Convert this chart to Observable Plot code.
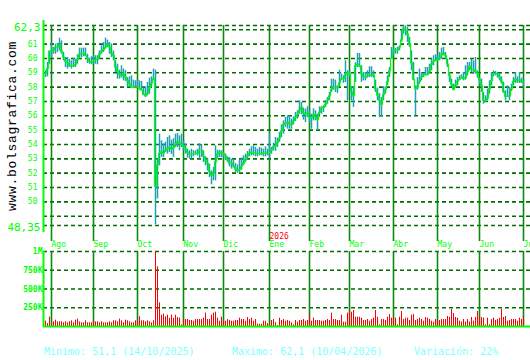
<!DOCTYPE html>
<html>
<head>
<meta charset="utf-8">
<script src="https://cdn.jsdelivr.net/npm/d3@7"></script>
<script src="https://cdn.jsdelivr.net/npm/@observablehq/plot@0.6"></script>
<style>
  html, body { margin: 0; padding: 0; background: #fff; }
  #wrap { position: relative; width: 530px; height: 360px; overflow: hidden; background: #fff; font-family: "DejaVu Sans Mono", monospace; }
  #wrap svg { position: absolute; left: 0; }
  .foot { position: absolute; top: 345px; font-size: 10px; color: #80ffff; white-space: pre; line-height: 14px; }
</style>
</head>
<body>
<div id="wrap"></div>
<script>
// ---- data (one bar per trading day) ----
const close = [59.0,59.3,60.5,60.5,60.6,60.8,60.8,60.95,60.5,60.1,59.8,59.7,59.5,59.5,59.5,59.6,59.95,60.3,60.35,60.35,
60.2,60.0,59.8,59.75,59.8,59.9,59.95,60.3,60.5,60.6,60.8,61.0,60.8,60.35,60.2,59.4,59.1,58.9,58.8,58.95,
58.7,58.45,58.2,58.0,58.0,58.0,58.0,57.9,57.8,57.5,57.4,57.6,57.95,58.3,58.6,51.1,52.6,53.4,53.5,53.4,
53.6,53.7,53.8,53.7,53.8,54.05,54.2,54.1,54.0,53.85,53.7,53.45,53.35,53.35,53.35,53.35,53.4,53.6,53.6,53.2,
52.9,52.7,52.1,51.85,52.0,52.8,53.35,53.45,53.4,53.35,53.2,52.95,52.7,52.7,52.5,52.3,52.2,52.25,52.5,52.7,
52.97,53.2,53.4,53.45,53.4,53.4,53.35,53.35,53.35,53.4,53.4,53.45,53.45,53.6,53.85,53.9,54.15,54.45,54.95,55.4,
55.5,55.55,55.45,55.4,55.65,55.9,56.1,56.4,56.6,56.2,56.1,56.2,55.85,55.85,56.1,55.9,55.75,56.25,56.55,56.6,
56.8,57.1,57.4,57.85,58.0,58.0,57.95,58.3,58.6,58.6,58.9,59.0,58.95,57.65,57.4,59.5,59.6,59.5,58.95,58.7,
58.7,58.8,58.85,58.9,58.85,57.85,57.45,57.1,56.8,57.5,57.85,58.4,59.15,60.0,60.5,60.6,60.6,60.8,61.3,62.1,
61.95,61.7,61.0,59.7,58.55,57.9,58.0,58.4,58.7,58.85,58.85,58.9,59.1,59.6,59.8,59.85,59.95,60.0,60.25,60.4,
60.2,59.6,58.8,58.2,57.85,58.15,58.4,58.55,58.7,58.6,58.65,59.1,59.45,59.25,59.25,59.1,58.95,58.5,58.1,57.1,
57.05,57.25,57.9,58.45,58.95,58.95,58.9,58.7,58.4,57.7,57.35,57.35,57.4,57.9,58.4,58.55,58.45,58.5,58.4,58.3];

const high = [59.14,59.72,60.53,61.0,60.77,61.0,61.05,61.42,61.23,60.42,60.07,60.07,59.95,59.84,60.02,59.95,60.26,60.72,60.72,60.72,
60.72,60.3,60.02,60.12,60.19,60.19,60.19,60.53,60.88,61.12,61.42,61.28,61.12,61.0,60.53,59.84,59.6,59.19,59.49,59.26,
59.14,58.67,58.72,58.79,58.49,58.44,58.44,58.44,58.4,57.95,58.02,58.33,58.63,58.72,59.26,59.19,53.0,54.72,54.26,54.05,
54.16,54.49,54.6,54.3,54.4,54.72,54.77,54.6,54.72,54.26,54.05,53.67,53.56,53.67,53.56,53.56,53.67,54.05,54.0,53.56,
53.14,53.05,52.63,52.16,52.4,53.91,53.6,53.6,53.56,53.44,53.33,53.14,53.09,52.98,52.98,52.67,52.58,52.91,53.05,53.21,
53.33,53.51,53.67,53.84,53.91,53.79,53.67,53.79,53.74,53.67,53.84,53.67,54.77,53.79,54.09,54.49,54.44,54.84,55.37,55.65,
55.88,56.0,56.0,55.77,55.93,56.23,56.35,57.05,56.93,56.53,56.47,56.63,56.35,56.12,56.49,56.35,56.12,56.63,56.63,56.7,
57.05,57.28,57.63,58.56,58.56,58.49,58.09,59.19,58.91,58.79,59.84,59.14,59.09,57.98,57.98,59.7,60.35,60.35,59.49,59.02,
59.02,59.14,59.42,59.42,59.14,58.49,57.93,57.56,57.28,58.02,58.02,58.79,59.37,60.77,60.77,60.7,60.77,60.88,61.98,62.28,
62.28,62.16,61.47,60.53,59.72,58.09,58.67,59.26,59.02,58.95,59.37,59.37,59.6,59.95,60.19,60.26,60.19,60.42,60.72,60.77,
60.42,59.95,59.02,58.56,58.21,58.49,58.67,58.79,58.86,59.02,59.49,59.72,59.72,59.95,59.84,60.07,59.14,58.67,58.56,57.63,
57.4,57.86,58.44,59.02,59.14,59.09,59.02,58.95,58.72,58.33,57.74,58.09,57.98,58.21,58.67,59.02,58.72,59.02,58.63,58.49];

const low = [58.67,58.72,59.6,60.07,60.3,60.3,60.42,60.53,60.3,59.84,59.37,59.26,59.37,59.26,59.37,59.37,59.6,60.02,60.07,60.12,
60.19,59.65,59.6,59.56,59.6,59.6,59.56,59.95,60.3,60.42,60.65,60.77,60.3,60.07,59.84,59.02,58.56,58.56,58.63,58.44,
58.4,57.98,57.98,57.93,57.93,57.98,57.93,57.79,57.74,57.4,57.28,57.4,57.51,57.98,58.44,48.4,50.2,52.51,53.1,53.09,
53.44,53.33,53.44,53.3,53.1,53.79,53.79,53.56,53.79,53.56,53.33,53.05,52.98,52.98,53.14,53.28,53.21,52.98,53.09,52.74,
52.51,52.16,51.7,51.19,51.47,51.47,52.98,53.09,53.09,53.05,52.91,52.74,52.44,52.28,52.35,52.05,51.98,52.05,52.21,52.51,
52.74,52.91,53.14,53.21,53.21,53.14,53.14,53.21,53.21,53.14,53.14,53.21,52.98,53.33,53.56,53.51,53.79,54.16,54.49,54.72,
55.19,55.07,55.07,55.07,55.37,55.6,55.77,56.12,56.07,55.7,55.53,55.88,55.53,55.07,55.65,55.65,54.95,56.0,56.12,56.23,
56.58,56.81,57.05,57.63,57.79,57.63,57.56,57.98,58.44,58.26,58.33,57.05,58.72,57.05,56.58,58.33,59.37,59.37,58.33,58.44,
58.44,58.63,58.67,58.67,58.63,57.63,57.05,55.88,55.88,57.05,57.51,58.09,58.67,59.95,60.19,60.3,60.3,60.53,61.12,61.7,
61.58,61.12,60.77,59.14,58.44,56.0,57.79,58.21,58.44,58.67,58.79,58.79,58.91,59.14,59.49,59.79,59.79,59.84,59.95,60.19,
59.95,59.37,58.33,58.02,57.74,57.93,58.09,58.44,58.56,58.44,58.49,58.79,59.14,59.02,58.91,58.91,58.63,58.16,57.63,56.81,
56.93,57.05,57.51,58.09,58.72,58.79,58.63,58.44,58.21,57.56,57.05,57.28,57.05,57.7,58.09,58.26,58.26,58.26,58.26,57.93];

// volume, thousands of shares
const volumeK = [71,40,124,31,62,84,62,62,62,49,62,49,62,76,49,84,98,62,49,49,
76,49,49,49,62,62,62,49,62,49,49,49,62,49,76,76,62,98,76,49,
84,76,62,49,49,76,62,129,76,76,62,76,62,49,76,2100,796,316,150,164,
129,151,107,151,111,151,120,111,22,93,93,93,80,80,71,93,93,93,93,111,
178,93,93,151,178,191,111,71,124,62,71,93,80,71,71,80,80,111,93,93,
71,120,93,111,71,93,31,31,31,71,71,40,22,80,93,49,13,111,80,93,
71,80,71,49,22,80,58,80,80,93,71,80,151,71,111,80,80,80,71,71,
80,93,80,178,93,93,80,80,151,58,58,178,213,191,213,124,124,124,111,80,
80,93,71,93,111,213,124,22,93,93,80,124,160,111,111,111,22,124,200,93,
111,111,80,151,160,80,93,111,93,71,120,111,93,71,58,93,80,80,93,93,
93,133,124,227,173,120,111,71,58,93,58,93,58,120,71,120,200,133,120,111,
22,111,22,93,111,80,93,111,227,120,133,71,80,93,93,93,71,111,93,133];

// axes / ticks
const months = ["Ago","Sep","Oct","Nov","Dic","Ene","Feb","Mar","Abr","May","Jun","Jul"];
const monthIdx = [3,24,46,69,89,112,132,152,174,196,217,239];
const yearLabel = ["2026"];
const yearIdx = [112];
const priceTicks = [50,51,52,53,54,55,56,57,58,59,60,61];
const priceGrid = [49,50,51,52,53,54,55,56,57,58,59,60,61,62];
const priceEnds = [62.3, 48.35];
const volTicks = [250000,500000,750000,1000000];
const volLabels = ["250K","500K","750K","1M"];
const xDomain = [-1, 242.5];

const footer = ["Minimo: 51,1 (14/10/2025)", "Maximo: 62,1 (10/04/2026)", "Variación: 22%"];
const watermark = "www.bolsagrafica.com";

// ---- build ----
const bars = close.map((c, i) => ({i, c, hi: high[i], lo: low[i], v: volumeK[i] * 1000}));

const GRID = "#006e00", MONTH = "#0a8a0a", BRIGHT = "#00ff00";
const font = {fontFamily: "DejaVu Sans Mono, monospace", background: "transparent", overflow: "visible"};

const main = Plot.plot({
  width: 530, height: 250,
  marginTop: 25, marginBottom: 25, marginLeft: 43, marginRight: 0,
  style: font,
  x: {type: "linear", domain: xDomain, axis: null, label: null},
  y: {domain: [48.35, 62.3], axis: null, label: null},
  marks: [
    Plot.ruleY(priceGrid.concat(priceEnds), {stroke: GRID, strokeWidth: 1.6, strokeDasharray: "4,3"}),
    Plot.ruleX(monthIdx, {stroke: MONTH, strokeWidth: 1.6, insetBottom: -16}),
    Plot.ruleX(bars, {x: "i", y1: "lo", y2: "hi", stroke: "#1fa0b4", strokeWidth: 1.5}),
    Plot.line(bars, {x: "i", y: "c", stroke: BRIGHT, strokeWidth: 1.2, curve: "step"}),
    Plot.ruleX([xDomain[0]], {stroke: BRIGHT, strokeWidth: 2, insetTop: -5, insetBottom: -7}),
    Plot.axisY(priceTicks, {tickSize: 0, tickPadding: 6, fontSize: 8, color: BRIGHT, label: null}),
    Plot.axisY(priceEnds, {tickSize: 0, tickPadding: 3, fontSize: 11, color: BRIGHT, dy: 2, label: null,
      tickFormat: d => String(d).replace(".", ",")}),
    Plot.axisX(monthIdx, {anchor: "bottom", tickSize: 0, tickPadding: 16, fontSize: 8, color: BRIGHT, label: null,
      textAnchor: "start", tickFormat: d => months[monthIdx.indexOf(d)]}),
    Plot.axisX(yearIdx, {anchor: "bottom", tickSize: 0, tickPadding: 8, fontSize: 8, color: "#ff0000", label: null,
      textAnchor: "start", tickFormat: d => yearLabel[yearIdx.indexOf(d)]})
  ]
});
main.style.top = "0px";

const vol = Plot.plot({
  width: 530, height: 95,
  marginTop: 6, marginBottom: 14, marginLeft: 43, marginRight: 0,
  style: font,
  x: {type: "linear", domain: xDomain, axis: null, label: null},
  y: {domain: [0, 1000000], axis: null, label: null},
  marks: [
    Plot.ruleY(volTicks, {stroke: GRID, strokeWidth: 1.6, strokeDasharray: "4,3"}),
    Plot.ruleX(monthIdx, {stroke: MONTH, strokeWidth: 1.6}),
    Plot.ruleX(bars, {x: "i", y1: 0, y2: "v", stroke: "#ff0000", strokeWidth: 1, clip: true}),
    Plot.ruleY([0], {stroke: BRIGHT, strokeWidth: 2}),
    Plot.ruleX([xDomain[0]], {stroke: BRIGHT, strokeWidth: 2}),
    Plot.axisY(volTicks, {tickSize: 0, tickPadding: 1, fontSize: 8, color: BRIGHT, fontWeight: "bold", label: null,
      tickFormat: d => volLabels[volTicks.indexOf(d)]})
  ]
});
vol.style.top = "245px";

const wrap = document.getElementById("wrap");
wrap.appendChild(main);
wrap.appendChild(vol);

// watermark
const ns = "http://www.w3.org/2000/svg";
const wm = document.createElementNS(ns, "svg");
wm.setAttribute("width", 530); wm.setAttribute("height", 360);
wm.style.top = "0px";
const t = document.createElementNS(ns, "text");
t.setAttribute("transform", "translate(16,211) rotate(-90)");
t.setAttribute("font-family", "Liberation Mono, monospace");
t.setAttribute("font-size", "13");
t.setAttribute("letter-spacing", "0.7");
t.setAttribute("fill", "#000");
t.textContent = watermark;
wm.appendChild(t);
wrap.appendChild(wm);

// footer
const lefts = [44, 232, 414];
footer.forEach((s, k) => {
  const d = document.createElement("div");
  d.className = "foot";
  d.style.left = lefts[k] + "px";
  d.textContent = s;
  wrap.appendChild(d);
});
</script>
</body>
</html>
